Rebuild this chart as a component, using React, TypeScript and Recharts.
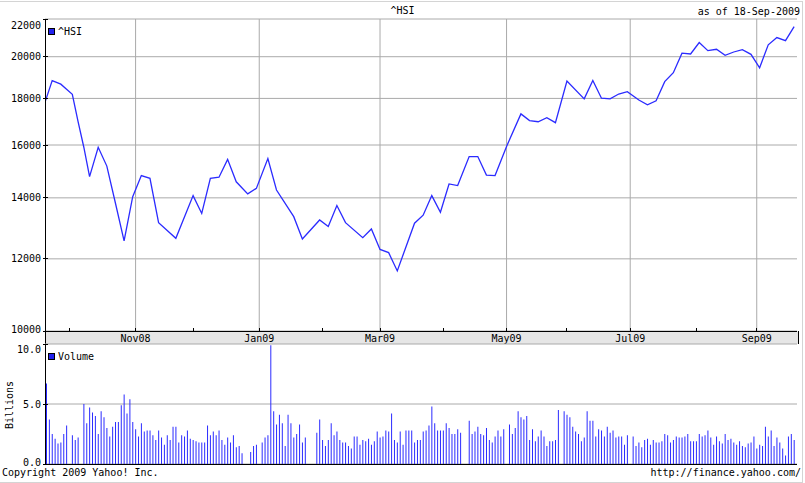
import { LineChart, Line, BarChart, Bar, XAxis, YAxis, CartesianGrid } from "recharts";

// x positions are "trading slots": 5 slots per calendar week, the week of 15-Sep-2008 holds slots 0..4
const weekZero = Date.UTC(2008, 8, 15);

function slotOf(date: string) {
  const [y, m, d] = date.split("-").map(Number);
  const days = Math.round((Date.UTC(y, m - 1, d) - weekZero) / 86400000);
  let week = Math.floor(days / 7);
  let dow = days % 7;
  if (dow > 4) {
    week += 1;
    dow = 0;
  }
  return week * 5 + dow;
}

const monthStarts = [
  "2008-10-01", "2008-11-01", "2008-12-01", "2009-01-01", "2009-02-01", "2009-03-01",
  "2009-04-01", "2009-05-01", "2009-06-01", "2009-07-01", "2009-08-01", "2009-09-01",
];
const monthLabels = ["", "Nov08", "", "Jan09", "", "Mar09", "", "May09", "", "Jul09", "", "Sep09"];

const priceTicks = [10000, 12000, 14000, 16000, 18000, 20000, 22000];
const volumeTicks = [0, 5, 10];

// ^HSI closes
const priceSlots = [
  3, 6, 9, 11, 13, 15, 17, 19, 22, 25, 28, 31, 34, 37, 40, 43, 49, 55, 58, 61,
  64, 67, 70, 74, 77, 81, 84, 90, 93, 99, 102, 105, 108, 114, 117, 120, 123, 126, 132, 135,
  138, 141, 144, 147, 151, 154, 157, 160, 164, 169, 172, 175, 178, 181, 185, 191, 194, 197, 200, 203,
  206, 210, 213, 216, 219, 222, 225, 228, 231, 234, 237, 240, 243, 246, 249, 252, 255, 258, 261, 264,
];
const priceCloses = [
  17630, 18830, 18660, 18420, 18190, 16970, 15910, 14770, 15910, 15170,
  13810, 12560, 14040, 14810, 14710, 13150, 12640, 14080, 13460, 14710,
  14750, 15430, 14580, 14140, 14340, 15460, 14280, 13350, 12620, 13240,
  13020, 13730, 13150, 12660, 12940, 12290, 12190, 11640, 13130, 13400,
  14080, 13500, 14500, 14440, 15540, 15540, 14830, 14810, 15940, 17310,
  17020, 16970, 17140, 16930, 18810, 17980, 18830, 18010, 17980, 18200,
  18310, 17930, 17710, 17890, 18780, 19210, 20180, 20140, 20730, 20310,
  20380, 20070, 20240, 20360, 20120, 19450, 20610, 20990, 20830, 21580,
];

// daily volume in billions, null = market holiday
const firstVolumeSlot = 4;
const volumes: (number | null)[] = [
  6.7, 3.7, 2.5, 2.1, 1.7, 1.8, 2.5, 3.2, null, 2.4,
  2.0, 2.2, null, 5.0, 3.4, 4.7, 4.3, 4.0, 2.5, 4.4,
  3.9, 3.0, 2.3, 3.1, 3.5, 3.5, 4.9, 5.8, 4.2, 5.4,
  3.5, 2.9, 2.3, 3.4, 2.7, 2.8, 2.8, 2.4, 2.0, 2.8,
  2.2, 1.6, 2.4, 2.0, 3.1, 3.1, 1.8, 2.4, 2.3, 2.8,
  2.1, 2.0, 1.9, 1.8, 1.8, 1.8, 3.2, 2.4, 2.7, 2.4,
  2.8, 2.0, 1.6, 2.2, 1.8, 2.4, 1.4, 1.5, 0.9, null,
  null, 1.0, 1.5, 1.6, null, 1.8, 2.2, 2.4, 9.9, 4.4,
  3.3, 4.1, 3.4, 1.5, 4.1, 3.4, 2.2, 2.5, 3.3, 1.8,
  2.2, null, null, null, 2.6, 3.7, 2.0, 1.5, 2.0, 3.4,
  2.4, 2.7, 2.0, 1.8, 1.8, 1.5, 1.3, 2.3, 2.3, 1.6,
  2.0, 1.9, 2.1, 1.6, 1.9, 2.7, 2.2, 2.3, 2.8, 2.7,
  4.2, 2.0, 1.8, 2.7, 1.6, 2.8, 2.8, 2.8, 1.8, 2.0,
  2.0, 2.7, 2.8, 3.2, 4.8, 3.4, 2.8, 2.8, 2.8, 3.4,
  3.0, 2.5, 2.5, 2.9, 2.6, null, null, 3.6, 2.5, 2.7,
  3.1, 2.5, 2.4, 3.0, 2.0, 1.8, 2.3, 2.8, 2.3, 2.9,
  null, 3.3, 2.5, 3.0, 4.4, 3.9, 3.7, 4.0, 2.0, 2.9,
  1.9, 2.3, 2.8, 2.3, 1.5, 1.9, 1.9, 2.0, 4.5, null,
  4.4, 4.1, 3.9, 3.1, 2.7, 2.5, 1.9, 2.2, 4.4, 3.6,
  3.6, 2.3, 2.9, 2.8, 2.3, 3.1, 2.6, 2.8, 2.2, 2.3,
  2.3, 1.6, 2.4, null, 2.3, 1.5, 1.8, 1.4, 2.0, 2.1,
  1.6, 2.0, 1.8, 1.8, 1.9, 2.5, 2.4, 1.8, 2.0, 2.3,
  2.2, 2.2, 2.3, 2.5, 1.9, 1.9, 1.9, 2.5, 2.3, 2.4,
  2.8, 2.2, 1.6, 2.3, 1.9, 1.7, 2.5, 2.0, 2.1, 1.8,
  1.6, 1.9, 1.5, 1.4, 1.7, 1.8, 2.3, 1.3, 1.6, 1.5,
  3.1, 2.3, 2.8, 1.5, 2.2, 1.8, 1.3, 0.7, 2.3, 2.5,
  2.0,
];

const font = "'DejaVu Sans Mono', monospace";
const blue = "#2b2bff";
const gridColor = "#aaaaaa";
const black = { stroke: "#000", shapeRendering: "crispEdges" };

// top / bottom are the plot edges inside the chart's own svg
function valueTick(format: (v: number) => string, top: number, bottom: number, padTop: number) {
  return (props: any) => {
    const { x, y, payload } = props;
    const ty = Math.min(Math.max(y, top + padTop), bottom - 2);
    return (
      <g>
        <line x1={x - 2} x2={x + 3} y1={y} y2={y} stroke="#000" shapeRendering="crispEdges" />
        <text x={x - 4} y={ty} dy="0.35em" textAnchor="end" fontFamily={font} fontSize={10} fill="#000">
          {format(payload.value)}
        </text>
      </g>
    );
  };
}

function MonthTick(props: any) {
  const { x, y, index } = props;
  return (
    <g>
      <line x1={x} x2={x} y1={y - 3} y2={y} stroke="#000" shapeRendering="crispEdges" />
      <text x={x} y={y + 7} dy="0.35em" textAnchor="middle" fontFamily={font} fontSize={10} fill="#000">
        {monthLabels[index]}
      </text>
    </g>
  );
}

function Text({ left, right, top, children, style }: any) {
  return (
    <div
      style={{
        position: "absolute",
        left,
        right,
        top,
        fontFamily: font,
        fontSize: 10,
        lineHeight: "12px",
        whiteSpace: "nowrap",
        color: "#000",
        ...style,
      }}
    >
      {children}
    </div>
  );
}

function LegendItem({ left, top, label }: any) {
  return (
    <div style={{ position: "absolute", left, top, display: "flex", alignItems: "center", fontFamily: font, fontSize: 10 }}>
      <span style={{ width: 5, height: 5, background: "#2222ee", border: "1px solid #000", marginRight: 3 }} />
      <span>{label}</span>
    </div>
  );
}

export default function App() {
  const priceData = priceSlots.map((slot, i) => ({ slot, close: priceCloses[i] }));
  const volumeData = volumes
    .map((v, i) => ({ slot: firstVolumeSlot + i, volume: v }))
    .filter((d) => d.volume !== null);
  const monthSlots = monthStarts.map(slotOf);
  const majorSlots = monthSlots.filter((_, i) => monthLabels[i] !== "");
  const xDomain = [slotOf("2008-09-18") + 0.5, slotOf("2009-09-18") + 1];

  return (
    <div style={{ position: "absolute", left: 0, top: 0, width: 805, height: 483, background: "#fff", overflow: "hidden" }}>
      <div
        style={{
          position: "absolute",
          left: -1,
          top: 1,
          width: 803,
          height: 480,
          borderTop: "1px solid #d4d4d4",
          borderRight: "1px solid #d4d4d4",
          borderBottom: "1px solid #d4d4d4",
        }}
      />
      <div
        style={{
          position: "absolute",
          left: 45,
          top: 331,
          width: 752,
          height: 13,
          background: "#e6e6e6",
          borderLeft: "1px solid #000",
          borderRight: "1px solid #000",
        }}
      />

      <Text left={0} top={5} style={{ width: 805, textAlign: "center" }}>^HSI</Text>
      <Text right={5} top={6}>as of 18-Sep-2009</Text>

      <div style={{ position: "absolute", left: 0, top: 0 }}>
        <LineChart width={805} height={345} data={priceData} margin={{ top: 19, right: 8, bottom: 0, left: 0 }}>
          <CartesianGrid stroke={gridColor} verticalValues={majorSlots} />
          <XAxis
            dataKey="slot"
            type="number"
            domain={xDomain}
            allowDataOverflow
            ticks={monthSlots}
            interval={0}
            height={14}
            tickSize={0}
            tickMargin={0}
            tickLine={false}
            axisLine={black}
            tick={MonthTick}
          />
          <XAxis
            xAxisId="top"
            orientation="top"
            dataKey="slot"
            type="number"
            domain={xDomain}
            allowDataOverflow
            ticks={monthSlots}
            interval={0}
            height={0}
            mirror
            tickSize={4}
            tick={false}
            tickLine={black}
            axisLine={black}
          />
          <YAxis
            scale="log"
            domain={[10000, 22000]}
            allowDataOverflow
            ticks={priceTicks}
            interval={0}
            width={45}
            tickSize={0}
            tickMargin={0}
            tickLine={false}
            axisLine={black}
            tick={valueTick((v) => String(v), 19, 331, 6)}
          />
          <YAxis
            yAxisId="right"
            orientation="right"
            scale="log"
            domain={[10000, 22000]}
            allowDataOverflow
            ticks={priceTicks}
            interval={0}
            width={0}
            mirror
            tickSize={5}
            tick={false}
            tickLine={black}
            axisLine={black}
          />
          <Line
            type="linear"
            dataKey="close"
            stroke={blue}
            strokeWidth={1.3}
            dot={false}
            isAnimationActive={false}
          />
        </LineChart>
      </div>

      <div style={{ position: "absolute", left: 0, top: 340 }}>
        <BarChart width={805} height={126} data={volumeData} margin={{ top: 4, right: 8, bottom: 0, left: 0 }}>
          <CartesianGrid stroke={gridColor} verticalValues={majorSlots} />
          <XAxis
            dataKey="slot"
            type="number"
            domain={xDomain}
            allowDataOverflow
            height={2}
            tick={false}
            tickLine={false}
            axisLine={black}
          />
          <XAxis
            xAxisId="top"
            orientation="top"
            dataKey="slot"
            type="number"
            domain={xDomain}
            allowDataOverflow
            ticks={monthSlots}
            interval={0}
            height={0}
            mirror
            tickSize={3}
            tick={false}
            tickLine={black}
            axisLine={black}
          />
          <YAxis
            domain={[0, 10]}
            ticks={volumeTicks}
            interval={0}
            width={45}
            tickSize={0}
            tickMargin={0}
            tickLine={false}
            axisLine={black}
            tick={valueTick((v) => v.toFixed(1), 4, 124, 5)}
          />
          <YAxis
            yAxisId="right"
            orientation="right"
            domain={[0, 10]}
            ticks={volumeTicks}
            interval={0}
            width={0}
            mirror
            tickSize={5}
            tick={false}
            tickLine={black}
            axisLine={black}
          />
          <Bar dataKey="volume" fill={blue} barSize={1} isAnimationActive={false} />
        </BarChart>
      </div>

      <LegendItem left={48} top={26} label="^HSI" />
      <LegendItem left={48} top={351} label="Volume" />

      <div
        style={{
          position: "absolute",
          left: 9,
          top: 405,
          transform: "translate(-50%, -50%) rotate(-90deg)",
          fontFamily: font,
          fontSize: 10,
          whiteSpace: "nowrap",
        }}
      >
        Billions
      </div>

      <Text left={2} top={467}>Copyright 2009 Yahoo! Inc.</Text>
      <Text right={4} top={467}>http://finance.yahoo.com/</Text>
    </div>
  );
}
